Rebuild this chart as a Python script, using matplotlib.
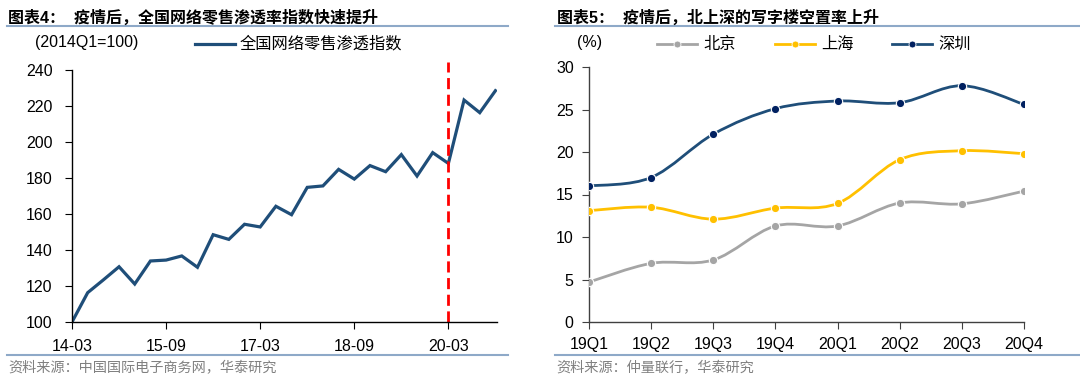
import matplotlib
matplotlib.use("Agg")
import matplotlib.pyplot as plt
from matplotlib.path import Path
from matplotlib.patches import PathPatch
from matplotlib.lines import Line2D

plt.rcParams['font.family'] = ['Liberation Sans', 'Noto Sans CJK SC', 'DejaVu Sans']

# left chart: online retail penetration index, 2014Q1..2020Q4
idx_values = [100.0, 116.3, 123.4, 130.7, 121.1, 133.9, 134.4, 136.7, 130.4, 148.5,
              145.9, 154.3, 152.8, 164.3, 159.6, 174.8, 175.6, 184.8, 179.4, 186.9,
              183.5, 193.0, 181.1, 194.1, 188.1, 223.3, 216.3, 228.5]
idx_ticks = [0, 6, 12, 18, 24]
idx_ticklabels = ['14-03', '15-09', '17-03', '18-09', '20-03']
covid_pos = 24

# right chart: office vacancy rate (%)
quarters = ['19Q1', '19Q2', '19Q3', '19Q4', '20Q1', '20Q2', '20Q3', '20Q4']
beijing = [4.7, 6.9, 7.3, 11.3, 11.3, 14.0, 13.9, 15.4]
shanghai = [13.1, 13.5, 12.1, 13.4, 13.95, 19.1, 20.15, 19.8]
shenzhen = [16.0, 17.0, 22.1, 25.1, 26.0, 25.8, 27.8, 25.6]

RULE = '#8EA9C8'
NAVY_LINE = '#1F4E79'


def smooth_line(ax, xs, ys, color, lw):
    # bezier segments through the data points (Excel-style smoothed line)
    pts = list(zip(xs, ys))
    n = len(pts)
    verts = [pts[0]]
    codes = [Path.MOVETO]
    for i in range(n - 1):
        p0 = pts[max(i - 1, 0)]
        p1 = pts[i]
        p2 = pts[i + 1]
        p3 = pts[min(i + 2, n - 1)]
        c1 = (p1[0] + (p2[0] - p0[0]) / 6, p1[1] + (p2[1] - p0[1]) / 6)
        c2 = (p2[0] - (p3[0] - p1[0]) / 6, p2[1] - (p3[1] - p1[1]) / 6)
        verts += [c1, c2, p2]
        codes += [Path.CURVE4] * 3
    ax.add_patch(PathPatch(Path(verts, codes), fill=False, edgecolor=color,
                           lw=lw, capstyle='round', joinstyle='round'))


fig = plt.figure(figsize=(10.8, 3.82), dpi=100)

# ---------- left panel ----------
fig.text(8 / 1080, 1 - 18 / 382, '图表4：  疫情后，全国网络零售渗透率指数快速提升',
         fontsize=11.5, fontweight='bold', va='center', ha='left')
fig.add_artist(Line2D([7 / 1080, 508 / 1080], [1 - 26 / 382] * 2, color=RULE, lw=1.5))
fig.add_artist(Line2D([7 / 1080, 508 / 1080], [1 - 355 / 382] * 2, color=RULE, lw=1.5))
fig.text(8 / 1080, 1 - 368 / 382, '资料来源：中国国际电子商务网，华泰研究',
         fontsize=10.2, color='#808080', va='center', ha='left')
fig.text(35 / 1080, 1 - 42 / 382, '(2014Q1=100)', fontsize=11.5, va='center', ha='left')
fig.add_artist(Line2D([195 / 1080, 235 / 1080], [1 - 44 / 382] * 2, color=NAVY_LINE, lw=2.3))
fig.text(240 / 1080, 1 - 44 / 382, '全国网络零售渗透指数', fontsize=11.7, va='center', ha='left')

ax1 = fig.add_axes([72 / 1080, 1 - 322 / 382, (497 - 72) / 1080, (322 - 70) / 382])
ax1.plot(range(len(idx_values)), idx_values, color=NAVY_LINE, lw=2.3, solid_joinstyle='miter')
ax1.axvline(covid_pos, color='#FF0000', lw=2, ls=(0, (4, 2)), ymax=1.03, clip_on=False)
ax1.set_xlim(0, 27.1)
ax1.set_ylim(100, 240)
ax1.set_yticks(range(100, 241, 20))
ax1.set_xticks(idx_ticks)
ax1.set_xticklabels(idx_ticklabels)
for s in ['top', 'right']:
    ax1.spines[s].set_visible(False)
for s in ['left', 'bottom']:
    ax1.spines[s].set_linewidth(1.0)
ax1.tick_params(axis='y', direction='out', length=5, pad=9, labelsize=11.5)
ax1.tick_params(axis='x', direction='out', length=5, pad=7, labelsize=11.5)

# ---------- right panel ----------
fig.text(557 / 1080, 1 - 18 / 382, '图表5：  疫情后，北上深的写字楼空置率上升',
         fontsize=11.5, fontweight='bold', va='center', ha='left')
fig.add_artist(Line2D([555 / 1080, 1.0], [1 - 26 / 382] * 2, color=RULE, lw=1.5))
fig.add_artist(Line2D([555 / 1080, 1.0], [1 - 355 / 382] * 2, color=RULE, lw=1.5))
fig.text(556 / 1080, 1 - 368 / 382, '资料来源：仲量联行，华泰研究',
         fontsize=10.2, color='#808080', va='center', ha='left')
fig.text(577 / 1080, 1 - 42 / 382, '(%)', fontsize=11.5, va='center', ha='left')

ax2 = fig.add_axes([589 / 1080, 1 - 322 / 382, (1024 - 589) / 1080, (322 - 67) / 382])
series = [(beijing, '#A5A5A5', '#A5A5A5', '北京', 657),
          (shanghai, '#FFC000', '#FFC000', '上海', 775),
          (shenzhen, NAVY_LINE, '#002060', '深圳', 892)]
xs = list(range(len(quarters)))
for vals, lc, mc, name, lx in series:
    smooth_line(ax2, xs, vals, lc, 2.0)
    ax2.plot(xs, vals, ls='none', marker='o', ms=6, mfc=mc, mec='white', mew=0.8, zorder=3)
    fig.add_artist(Line2D([lx / 1080, (lx + 40) / 1080], [1 - 44 / 382] * 2, color=lc, lw=2.0))
    fig.add_artist(Line2D([(lx + 20) / 1080], [1 - 44 / 382], marker='o', ms=5,
                          mfc=mc, mec='white', mew=0.6))
    fig.text((lx + 46) / 1080, 1 - 44 / 382, name, fontsize=11.7, va='center', ha='left')

ax2.set_xlim(0, 7)
ax2.set_ylim(0, 30)
ax2.set_yticks(range(0, 31, 5))
ax2.set_xticks(xs)
ax2.set_xticklabels(quarters)
for s in ['top', 'right']:
    ax2.spines[s].set_visible(False)
for s in ['left', 'bottom']:
    ax2.spines[s].set_color('#404040')
    ax2.spines[s].set_linewidth(1.0)
ax2.tick_params(axis='y', direction='out', length=5, pad=6, labelsize=11.5, color='#404040')
ax2.tick_params(axis='x', direction='out', length=5, pad=6, labelsize=11.5, color='#404040')

fig.savefig('out.png', dpi=100)
